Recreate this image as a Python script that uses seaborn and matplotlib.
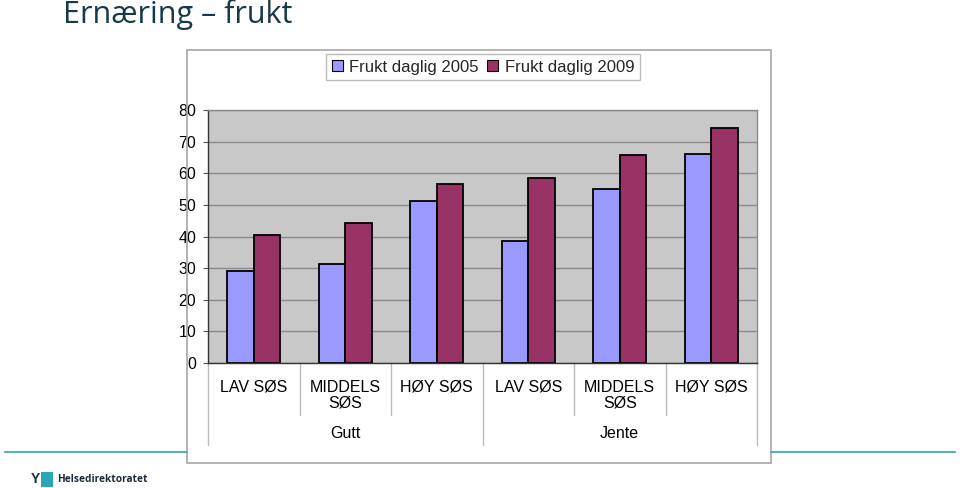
import matplotlib
matplotlib.use("Agg")
import matplotlib.pyplot as plt
import seaborn as sns
import pandas as pd
from matplotlib.lines import Line2D
from matplotlib.patches import Rectangle

# ---- data ----
groups = ["Gutt", "Gutt", "Gutt", "Jente", "Jente", "Jente"]
levels = ["LAV SØS", "MIDDELS\nSØS", "HØY SØS", "LAV SØS", "MIDDELS\nSØS", "HØY SØS"]
series_names = ["Frukt daglig 2005", "Frukt daglig 2009"]
values_2005 = [29.1, 31.3, 51.2, 38.6, 55.0, 66.1]
values_2009 = [40.5, 44.3, 56.6, 58.5, 65.8, 74.3]
yticks = [0, 10, 20, 30, 40, 50, 60, 70, 80]
title = "Ernæring – frukt"
logo_text = "Helsedirektoratet"
colors = ["#9999FF", "#993366"]

keys = [f"{g} {l}" for g, l in zip(groups, levels)]
df = pd.DataFrame({
    "key": keys * 2,
    "serie": [series_names[0]] * 6 + [series_names[1]] * 6,
    "verdi": values_2005 + values_2009,
})

sns.set_theme(style="white")
plt.rcParams["font.family"] = ["Liberation Sans", "DejaVu Sans"]

fig = plt.figure(figsize=(9.6, 4.88), dpi=100)
ax = fig.add_axes([208 / 960, 125 / 488, 549 / 960, 253 / 488])
ax.set_facecolor("#C8C8C8")

sns.barplot(data=df, x="key", y="verdi", hue="serie", order=keys,
            hue_order=series_names, palette=colors, width=0.58,
            edgecolor="black", linewidth=1.3, saturation=1, ax=ax, legend=False)

ax.set_xlim(-0.5, 5.5)
ax.set_ylim(0, 80)
ax.set_yticks(yticks)
ax.set_yticklabels([str(v) for v in yticks], fontsize=11.5, color="black")
ax.yaxis.grid(True, color="#8A8A8A", linewidth=1)
ax.set_axisbelow(True)
ax.tick_params(axis="y", which="both", left=True, length=3.6, width=0.8,
               color="#555555", pad=5)
ax.tick_params(axis="x", bottom=False, length=0, pad=12)
ax.set_xticks(range(6))
ax.set_xticklabels(levels, fontsize=11.5, color="black", linespacing=1.1, va="top")
ax.set_xlabel("")
ax.set_ylabel("")
for side in ["left", "bottom"]:
    ax.spines[side].set_color("#333333")
    ax.spines[side].set_linewidth(1)
for side in ["top", "right"]:
    ax.spines[side].set_color("#8A8A8A")
    ax.spines[side].set_linewidth(1)

# category separators below axis
trans = ax.get_xaxis_transform()
for xs in [-0.5, 0.5, 1.5, 2.5, 3.5, 4.5, 5.5]:
    bottom = -0.324 if xs in (-0.5, 2.5, 5.5) else -0.205
    ax.add_line(Line2D([xs, xs], [0, bottom], transform=trans, color="#BBBBBB",
                       linewidth=1, clip_on=False))
# group labels
for gname, xc in [("Gutt", 1), ("Jente", 4)]:
    ax.text(xc, -0.28, gname, transform=trans, ha="center", va="center",
            fontsize=11.5, color="black")

# chart frame
fig.patches.append(Rectangle((187 / 960, 25 / 488), 584 / 960, 413 / 488,
                             transform=fig.transFigure, fill=False,
                             edgecolor="#A6A6A6", linewidth=1.2, zorder=0))

# legend
handles = [Rectangle((0, 0), 1, 1, facecolor=c, edgecolor="black", linewidth=0.8) for c in colors]
leg = fig.legend(handles, series_names, loc="center", bbox_to_anchor=(483 / 960, 1 - 67 / 488),
                 ncol=2, fontsize=12, frameon=True, fancybox=False,
                 handlelength=0.65, handleheight=0.65, handletextpad=0.4,
                 columnspacing=0.5, borderpad=0.35)
leg.get_frame().set_edgecolor("#AAAAAA")
leg.get_frame().set_linewidth(1)

# slide title
fig.text(63 / 960, 1 - 15 / 488, title, fontsize=22, color="#17394A",
         family=["Open Sans", "DejaVu Sans"], ha="left", va="center")

# teal rule lines
ly = 1 - 452 / 488
fig.add_artist(Line2D([5 / 960, 187 / 960], [ly, ly], transform=fig.transFigure,
                      color="#5BAFAD", linewidth=1.5))
fig.add_artist(Line2D([771 / 960, 955 / 960], [ly, ly], transform=fig.transFigure,
                      color="#5BAFAD", linewidth=1.5))

# logo
fig.patches.append(Rectangle((41 / 960, 1 - 487 / 488), 12 / 960, 15 / 488,
                             transform=fig.transFigure, facecolor="#2AA7B6",
                             edgecolor="none"))
fig.text(31 / 960, 1 - 479 / 488, "Y", fontsize=10, fontweight="bold", color="#1C2B39",
         ha="left", va="center")
fig.text(57 / 960, 1 - 480 / 488, logo_text, fontsize=7.3, fontweight="bold",
         color="#1C2B39", family=["Open Sans", "DejaVu Sans"], ha="left", va="center")

fig.savefig("out.png", dpi=100)
